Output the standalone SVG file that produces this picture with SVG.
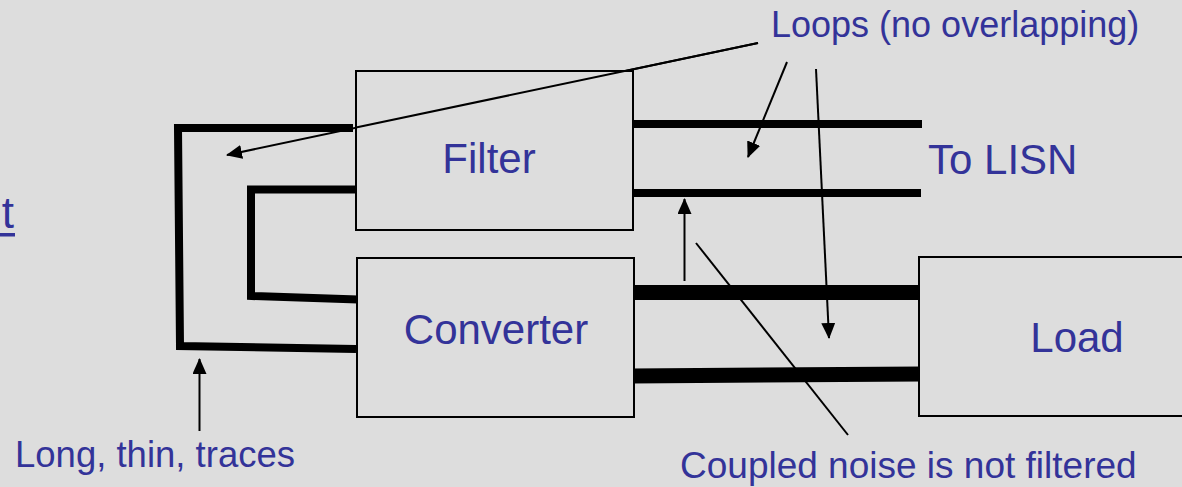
<svg xmlns="http://www.w3.org/2000/svg" width="1182" height="487" viewBox="0 0 1182 487">
<style>
.bg{fill:#DDDDDD}
.box{fill:#DDDDDD;stroke:#000;stroke-width:2}
.lbl{font-family:"Liberation Sans",Arial,sans-serif;fill:#333399}
.tr{fill:none;stroke:#000;stroke-linecap:butt;stroke-linejoin:miter}
.ar{fill:none;stroke:#000;stroke-width:2}
</style>
<defs>
<marker id="ah" markerUnits="userSpaceOnUse" markerWidth="16" markerHeight="14" refX="15" refY="7" orient="auto">
<path d="M0,0 L16,7 L0,14 z" fill="#000"/>
</marker>
</defs>
<rect class="bg" x="0" y="0" width="1182" height="487"/>

<g id="fragment-t">
<text class="lbl" x="14" y="228" font-size="44" text-anchor="end">t</text>
<rect x="0" y="233" width="15" height="3.5" fill="#333399"/>
</g>

<g id="connectors">
<!-- outer left trace -->
<path class="tr" stroke-width="8" d="M353,128 L178,128 L180,346 L356,349"/>
<!-- inner left trace -->
<path class="tr" stroke-width="8" d="M357,189.5 L251,189.5 L251,296 L358,299.5"/>
<!-- right traces -->
<line class="tr" stroke-width="8" x1="632" y1="124" x2="922" y2="124"/>
<line class="tr" stroke-width="8" x1="632" y1="193" x2="921" y2="193"/>
<line class="tr" stroke-width="15" x1="634" y1="292.5" x2="920" y2="292.5"/>
<line class="tr" stroke-width="15" x1="632" y1="376" x2="922" y2="374"/>
<!-- arrows -->
<line class="ar" x1="758" y1="43" x2="227" y2="155" marker-end="url(#ah)"/>
<line class="ar" x1="787" y1="62" x2="748" y2="157" marker-end="url(#ah)"/>
<line class="ar" x1="816" y1="69" x2="829" y2="338" marker-end="url(#ah)"/>
<line class="ar" x1="684.5" y1="281" x2="684.5" y2="199" marker-end="url(#ah)"/>
<line class="ar" x1="696" y1="243" x2="848" y2="435"/>
<line class="ar" x1="199.5" y1="431" x2="199.5" y2="359" marker-end="url(#ah)"/>
</g>

<g id="filter">
<rect class="box" x="356" y="71" width="277" height="159"/>
<text class="lbl" x="489" y="173" font-size="42" text-anchor="middle">Filter</text>
</g>

<g id="converter">
<rect class="box" x="357" y="258" width="277" height="159"/>
<text class="lbl" x="496" y="344" font-size="42" text-anchor="middle">Converter</text>
</g>

<g id="load">
<rect class="box" x="919" y="257" width="300" height="159"/>
<text class="lbl" x="1077" y="352" font-size="42" text-anchor="middle">Load</text>
</g>

<g id="to-lisn">
<text class="lbl" x="928" y="174" font-size="42">To LISN</text>
</g>

<g id="loops-label">
<text class="lbl" x="771" y="37" font-size="36">Loops (no overlapping)</text>
</g>

<g id="traces-label">
<text class="lbl" x="15" y="467" font-size="36.5">Long, thin, traces</text>
</g>

<g id="coupled-label">
<text class="lbl" x="680" y="478" font-size="37">Coupled noise is not filtered</text>
</g>

<!-- arrow over filter box drawn on top -->
<g id="overlay">
<line class="ar" x1="758" y1="43" x2="356" y2="127.5"/>
</g>
</svg>
